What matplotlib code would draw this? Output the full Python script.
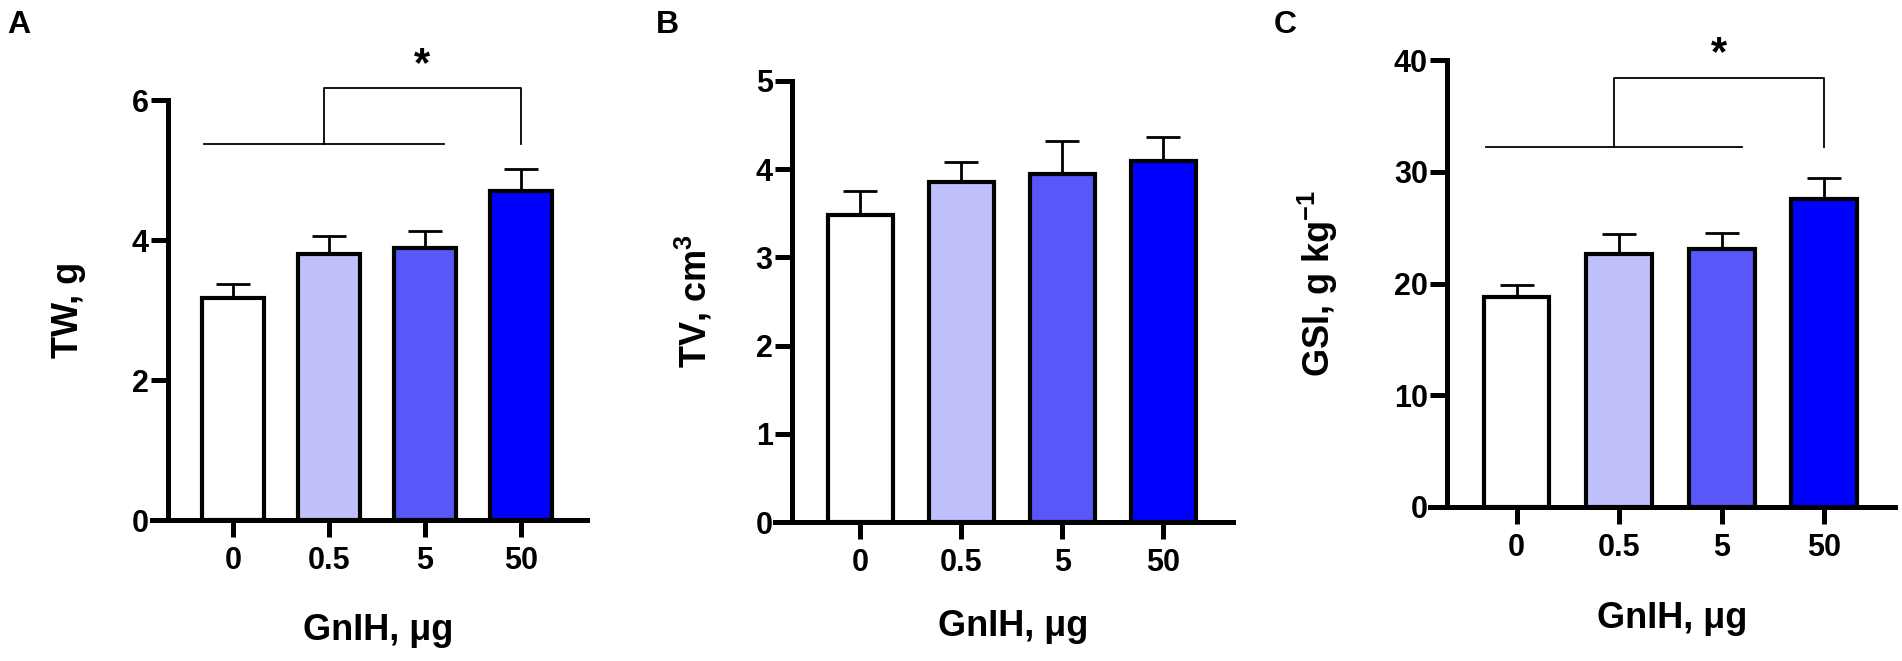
import matplotlib
matplotlib.use("Agg")
import matplotlib.pyplot as plt
import numpy as np

plt.rcParams['font.family'] = ['Liberation Sans', 'DejaVu Sans']
plt.rcParams['font.weight'] = 'bold'
plt.rcParams['mathtext.fontset'] = 'custom'
plt.rcParams['mathtext.rm'] = 'Liberation Sans:bold'
plt.rcParams['mathtext.bf'] = 'Liberation Sans:bold'
plt.rcParams['mathtext.default'] = 'rm'

# dane
doses = ['0', '0.5', '5', '50']
colors = ['#FFFFFF', '#C0C0FC', '#5757FA', '#0000FF']

tw_mean = [3.17, 3.80, 3.88, 4.70]
tw_sem = [0.20, 0.26, 0.25, 0.32]
tv_mean = [3.48, 3.86, 3.95, 4.09]
tv_sem = [0.27, 0.22, 0.37, 0.27]
gsi_mean = [18.75, 22.6, 23.1, 27.6]
gsi_sem = [1.1, 1.8, 1.4, 1.8]

ylabels = ['TW, g', 'TV, cm$^{3}$', 'GSI, g kg$^{-1}$']
yticks = [[0, 2, 4, 6], [0, 1, 2, 3, 4, 5], [0, 10, 20, 30, 40]]
letters = ['A', 'B', 'C']

# bracket: (poziom linii, gora, pozycja gwiazdki)
brackets = [(5.37, 6.17, 6.5), None, (32.2, 38.4, 40.5)]

W, H = 1902, 661
fig = plt.figure(figsize=(W / 100, H / 100), dpi=100)

# pozycje osi w pikselach: lewo, prawo, dol (od gory), gora (od gory)
boxes = [(152, 587, 520, 100), (775, 1233, 522, 81), (1430, 1895, 507, 60)]
label_x = [68, 694, 1318]
xlabel_y = [630, 626, 618]
letter_x = [7, 656, 1274]

means = [tw_mean, tv_mean, gsi_mean]
sems = [tw_sem, tv_sem, gsi_sem]

for k in range(3):
    l, r, b, t = boxes[k]
    ax = fig.add_axes([l / W, (H - b) / H, (r - l) / W, (b - t) / H])
    x = np.arange(len(doses))
    ax.errorbar(x, means[k], yerr=[np.zeros(4), sems[k]], fmt='none', ecolor='black',
                elinewidth=2, capsize=12, capthick=2, zorder=1)
    ax.bar(x, means[k], width=0.64, color=colors, edgecolor='black', linewidth=3, zorder=2)

    ymax = yticks[k][-1]
    ax.set_xlim(-0.845, 3.69)
    ax.set_ylim(0, ymax)
    ax.spines['top'].set_visible(False)
    ax.spines['right'].set_visible(False)
    ax.spines['left'].set_position(('data', -0.675))
    ax.spines['left'].set_bounds(0, ymax)
    for s in ['left', 'bottom']:
        ax.spines[s].set_linewidth(3.6)
    ax.set_xticks(x)
    ax.set_xticklabels(doses)
    ax.set_yticks(yticks[k])
    ax.tick_params(axis='both', length=12, width=3.6, labelsize=22, direction='out')
    ax.tick_params(axis='x', pad=7)
    ax.tick_params(axis='y', pad=2)

    ax.set_ylabel(ylabels[k], fontsize=26, fontweight='bold', va='center')
    ax.yaxis.set_label_coords((label_x[k] - l) / (r - l), 0.5)
    ax.set_xlabel('GnIH, μg', fontsize=26, fontweight='bold', va='center')
    ax.xaxis.set_label_coords(0.52, -(xlabel_y[k] - b) / (b - t))

    fig.text(letter_x[k] / W, 1 - 10 / H, letters[k], fontsize=23, fontweight='bold',
             ha='left', va='top')

    if brackets[k] is not None:
        lo, hi, st = brackets[k]
        ax.plot([-0.3, 2.2], [lo, lo], color='black', lw=1.3, clip_on=False)
        ax.plot([0.95, 0.95, 3, 3], [lo, hi, hi, lo], color='black', lw=1.3, clip_on=False)
        ax.text(1.97, st, '*', fontsize=30, fontweight='bold', ha='center', va='center')

fig.savefig('out.png', dpi=100)
